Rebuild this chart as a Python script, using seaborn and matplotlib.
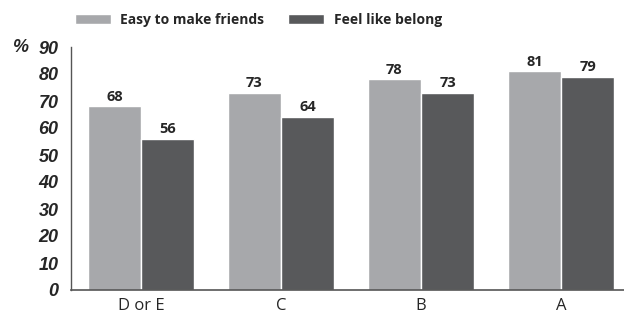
import matplotlib
matplotlib.use("Agg")
import matplotlib.pyplot as plt
import pandas as pd
import seaborn as sns
from matplotlib.patches import Patch

categories = ["D or E", "C", "B", "A"]
series = ["Easy to make friends", "Feel like belong"]
easy_friends = [68, 73, 78, 81]
feel_belong = [56, 64, 73, 79]
yticks = [0, 10, 20, 30, 40, 50, 60, 70, 80, 90]

df = pd.DataFrame({
    "group": categories * 2,
    "series": [series[0]] * 4 + [series[1]] * 4,
    "value": easy_friends + feel_belong,
})

sns.set_style("white")
plt.rcParams["font.family"] = ["Open Sans", "DejaVu Sans"]

fig = plt.figure(figsize=(6.24, 3.15), dpi=100)
ax = fig.add_axes([71 / 624, 25 / 315, 553 / 624, 243 / 315])

palette = {series[0]: "#a7a8ab", series[1]: "#58595b"}
sns.barplot(data=df, x="group", y="value", hue="series", palette=palette,
            width=0.76, saturation=1, ax=ax, legend=False)

for cont in ax.containers:
    ax.bar_label(cont, fmt="%d", padding=2, fontsize=10.5, fontweight="bold")

ax.set_ylim(0, 90)
ax.set_xlim(-0.5, 3.45)
ax.set_yticks(yticks)
ax.set_yticklabels([str(t) for t in yticks], fontsize=13, fontweight="bold",
                   fontstyle="italic", family="Liberation Sans")
ax.tick_params(axis="y", length=0, pad=9)
ax.tick_params(axis="x", length=0, labelsize=12, pad=6)
ax.set_xlabel("")
ax.set_ylabel("")
for s in ["top", "right"]:
    ax.spines[s].set_visible(False)
ax.spines["left"].set_color("#555555")
ax.spines["bottom"].set_color("#555555")
ax.spines["left"].set_linewidth(1)
ax.spines["bottom"].set_linewidth(1.2)

fig.text(12 / 624, 1 - 47 / 315, "%", fontsize=13, fontweight="bold",
         fontstyle="italic", va="center", family="Liberation Sans")

handles = [Patch(facecolor=palette[s], label=s) for s in series]
fig.legend(handles=handles, loc="center", bbox_to_anchor=(0.414, 1 - 20 / 315),
           ncol=2, frameon=False, handlelength=2.6, handleheight=0.8,
           columnspacing=1.7, handletextpad=0.7,
           prop={"weight": "bold", "size": 10})

fig.savefig("out.png", dpi=100)
